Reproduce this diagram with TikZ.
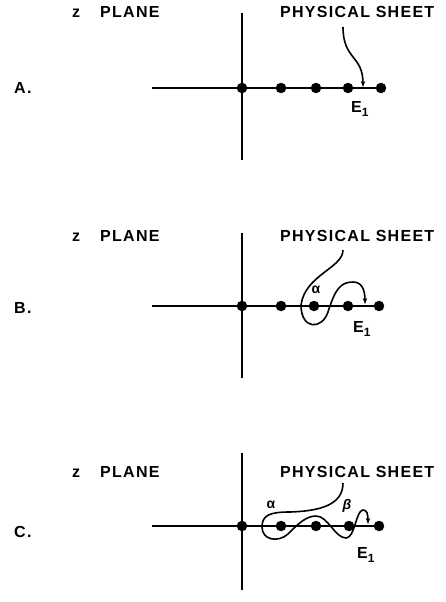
\documentclass[tikz,border=0pt]{standalone}
\usepackage{fontspec}
\setmainfont{Liberation Sans}[LetterSpace=8]
\usetikzlibrary{arrows.meta}
\newcommand{\Eone}{E\raisebox{-4pt}{\fontsize{12}{14}\selectfont 1}}

\begin{document}
\begin{tikzpicture}[x=1pt,y=-1pt,
        vertex/.style={circle,draw,fill=black,minimum size=10pt,inner sep=0pt},
        txt/.style={inner sep=0pt,font=\fontsize{16}{18}\selectfont\bfseries},
        greek/.style={inner sep=0pt,font=\fontsize{14}{16}\selectfont\bfseries},
        sheet/.style={line width=1.6pt,-{Stealth[length=6pt,width=4.5pt]}}]

    \useasboundingbox (0,0) rectangle (445,602);

    % A
    \node[txt,anchor=base west] (labA) at (14,93) {A.};
    \node[txt,anchor=base west] (planeA) at (72,18) {z\hspace{20pt}PLANE};
    \node[txt,anchor=base west] (physA) at (280,17.5) {PHYSICAL SHEET};

    \coordinate (aL) at (152,88);
    \coordinate (aT) at (242,13);
    \coordinate (aB) at (242,160);
    \draw[line width=1.5pt] (aT) -- (aB);
    \node[vertex] (a0) at (242,88) {};
    \node[vertex] (a1) at (281,88) {};
    \node[vertex] (a2) at (316,88) {};
    \node[vertex] (a3) at (348,88) {};
    \node[vertex] (a4) at (381,88) {};
    \draw[line width=1.5pt] (aL) -- (a4);

    \coordinate (aS) at (343,27);
    \coordinate (aE) at (363,87);
    \draw[sheet] (aS) .. controls (343,60) and (363,55) .. (aE);
    \node[txt,anchor=base west] (eA) at (351,112) {\Eone};

    % B
    \node[txt,anchor=base west] (labB) at (14,313) {B.};
    \node[txt,anchor=base west] (planeB) at (72,241.5) {z\hspace{20pt}PLANE};
    \node[txt,anchor=base west] (physB) at (280,241.5) {PHYSICAL SHEET};

    \coordinate (bL) at (152,306);
    \coordinate (bT) at (242,233);
    \coordinate (bB) at (242,378);
    \draw[line width=1.5pt] (bT) -- (bB);
    \node[vertex] (b0) at (242,306) {};
    \node[vertex] (b1) at (281,306) {};
    \node[vertex] (b2) at (314,306) {};
    \node[vertex] (b3) at (348,306) {};
    \node[vertex] (b4) at (379,306) {};
    \draw[line width=1.5pt] (bL) -- (b4);

    \coordinate (bS) at (343,250);
    \coordinate (bE) at (365,304);
    \draw[sheet] (bS) .. controls (343,268) and (305,275) .. (301,305)
        .. controls (301,330) and (322,330) .. (328,312)
        .. controls (335,290) and (340,282) .. (353,282)
        .. controls (362,282) and (365,290) .. (bE);
    \node[greek] (alphaB) at (316,290) {α};
    \node[txt,anchor=base west] (eB) at (353,332) {\Eone};

    % C
    \node[txt,anchor=base west] (labC) at (14,537) {C.};
    \node[txt,anchor=base west] (planeC) at (72,477.5) {z\hspace{20pt}PLANE};
    \node[txt,anchor=base west] (physC) at (280,477.5) {PHYSICAL SHEET};

    \coordinate (cL) at (152,526);
    \coordinate (cT) at (242,453);
    \coordinate (cB) at (242,590);
    \draw[line width=1.5pt] (cT) -- (cB);
    \node[vertex] (c0) at (242,526) {};
    \node[vertex] (c1) at (281,526) {};
    \node[vertex] (c2) at (316,526) {};
    \node[vertex] (c3) at (349,526) {};
    \node[vertex] (c4) at (379,526) {};
    \draw[line width=1.5pt] (cL) -- (c4);

    \coordinate (cS) at (343,483);
    \coordinate (cE) at (368,524);
    \draw[sheet] (cS) .. controls (343,505) and (320,511) .. (290,512)
        .. controls (270,512) and (262,515) .. (262,527)
        .. controls (262,540) and (278,543) .. (288,534)
        .. controls (298,524) and (306,516) .. (316,516)
        .. controls (328,516) and (335,538) .. (346,538)
        .. controls (355,538) and (356,510) .. (363,510)
        .. controls (367,510) and (368,514) .. (cE);
    \node[greek] (alphaC) at (271,505) {α};
    \node[greek,font=\fontsize{14}{16}\selectfont\bfseries\itshape] (betaC) at (347,506) {β};
    \node[txt,anchor=base west] (eC) at (357,558) {\Eone};
\end{tikzpicture}
\end{document}
